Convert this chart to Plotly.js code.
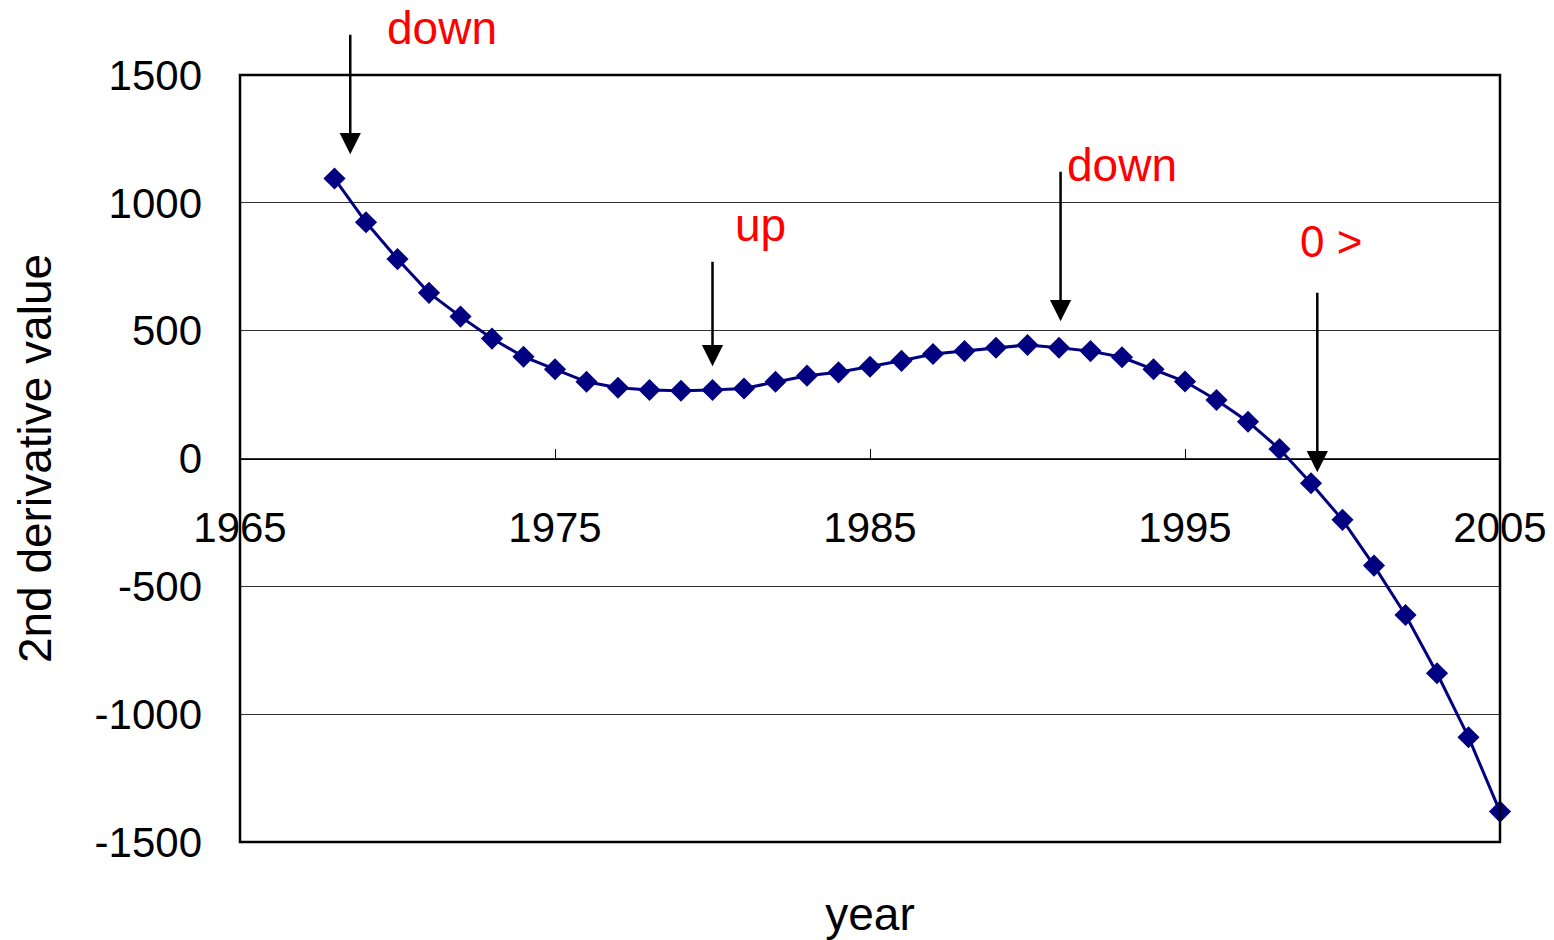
<!DOCTYPE html>
<html>
<head>
<meta charset="utf-8">
<script src="https://cdn.plot.ly/plotly-3.0.1.min.js"></script>
<style>html,body{margin:0;padding:0;background:#fff}#chart{width:1554px;height:940px}</style>
</head>
<body>
<div id="chart"></div>
<script>
const years = [1968,1969,1970,1971,1972,1973,1974,1975,1976,1977,1978,1979,1980,1981,1982,1983,1984,1985,1986,1987,1988,1989,1990,1991,1992,1993,1994,1995,1996,1997,1998,1999,2000,2001,2002,2003,2004,2005];
const secondDerivative = [1095,924,780,648,555,469,398,349,300,277,268,265,268,274,300,324,337,359,382,409,420,433,444,433,420,396,349,301,229,144,37,-97,-240,-419,-612,-840,-1090,-1381];
const xTickVals = [1965,1975,1985,1995,2005];
const xTickText = ["1965","1975","1985","1995","2005"];
const yTickVals = [-1500,-1000,-500,0,500,1000,1500];
const yTickText = ["-1500","-1000","-500","0","500","1000","1500"];
const calloutLabels = ["down","up","down","0 >"];
const calloutYears = [1968.5,1980,1991.05,1999.2];
const calloutValues = [1190,361,537,-54];

const tickFont = {family:'"Liberation Sans",Arial,sans-serif', size:42, color:'#000'};
const titleFont = {family:'"Liberation Sans",Arial,sans-serif', size:46, color:'#000'};
const redFont = {family:'"Liberation Sans",Arial,sans-serif', size:46, color:'#ff0000'};

const trace = {
  x: years, y: secondDerivative, type:'scatter', mode:'lines+markers',
  line:{color:'#000080', width:3},
  marker:{symbol:'diamond', size:17, color:'#000080'},
  showlegend:false, cliponaxis:false
};

// arrow tails (pixel offsets) and label placements
const arrowTailOffsets = [-121,-106,-151,-181];
const labelPos = [
  {x:(385-240)/1260, y:(842-28)/767},
  {x:(733-240)/1260, y:(842-225)/767},
  {x:(1065-240)/1260, y:(842-165)/767},
  {x:(1298-240)/1260, y:(842-241)/767}
];
const annotations = [];
for (let i=0;i<calloutLabels.length;i++){
  annotations.push({
    x:calloutYears[i], y:calloutValues[i], xref:'x', yref:'y',
    text:'', showarrow:true, ax:0, ay:arrowTailOffsets[i],
    arrowhead:2, arrowsize:1.7, arrowwidth:2.5, arrowcolor:'#000'
  });
  const f = i===3 ? {family:'"Liberation Sans",Arial,sans-serif', size:44, color:'#ff0000'} : redFont;
  annotations.push({
    x:labelPos[i].x, y:labelPos[i].y, xref:'paper', yref:'paper',
    xanchor:'left', yanchor:'middle', text:calloutLabels[i], showarrow:false, font:f
  });
}

const layout = {
  width:1554, height:940,
  margin:{l:240, r:54, t:75, b:98, pad:0},
  paper_bgcolor:'#fff', plot_bgcolor:'#fff',
  xaxis:{
    range:[1965,2005], anchor:'free', position:0.5,
    tickvals:xTickVals, ticktext:xTickText, tickfont:tickFont,
    ticks:'inside', ticklen:10, tickwidth:1, tickcolor:'#000',
    showline:true, linecolor:'#000', linewidth:1.5,
    showgrid:false, zeroline:false, ticklabelstandoff:32,
    title:{text:'year', font:titleFont, standoff:362}
  },
  yaxis:{
    range:[-1500,1500], tickvals:yTickVals, ticktext:yTickText, tickfont:tickFont,
    ticks:'', showgrid:true, gridcolor:'#303030', gridwidth:1,
    zeroline:false, showline:false, ticklabelstandoff:37,
    title:{text:'2nd derivative value', font:titleFont, standoff:28}
  },
  shapes:[{type:'rect', xref:'paper', yref:'paper', x0:0, x1:1, y0:0, y1:1, line:{color:'#000', width:2.5}}],
  annotations:annotations
};

Plotly.newPlot('chart',[trace],layout,{staticPlot:true, displayModeBar:false});
</script>
</body>
</html>
